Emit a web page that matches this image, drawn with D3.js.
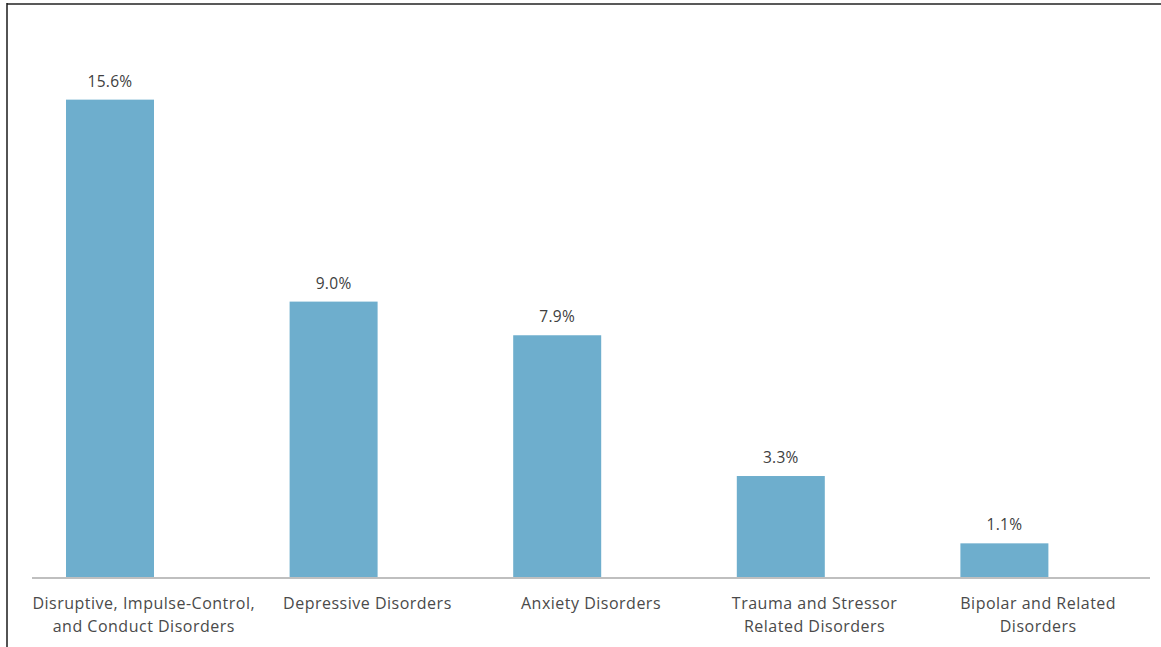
<!DOCTYPE html>
<html>
<head>
<meta charset="utf-8">
<script src="https://cdn.jsdelivr.net/npm/d3@7"></script>
<style>
  html, body { margin: 0; padding: 0; background: #fff; }
  svg { display: block; }
</style>
</head>
<body>
<svg id="chart" width="1161" height="647"></svg>
<script>
const categories = [
  ["Disruptive, Impulse-Control,", "and Conduct Disorders"],
  ["Depressive Disorders"],
  ["Anxiety Disorders"],
  ["Trauma and Stressor", "Related Disorders"],
  ["Bipolar and Related", "Disorders"]
];
const values = [15.6, 9.0, 7.9, 3.3, 1.1];
const valueLabels = ["15.6%", "9.0%", "7.9%", "3.3%", "1.1%"];

const svg = d3.select("#chart");
const W = 1161, H = 647;
const axisLeft = 32, axisRight = 1150, axisY = 578;

// frame lines (top and left)
svg.append("line").attr("x1", 7).attr("x2", W).attr("y1", 4).attr("y2", 4)
  .attr("stroke", "#595959").attr("stroke-width", 2);
svg.append("line").attr("x1", 7).attr("x2", 7).attr("y1", 3).attr("y2", H)
  .attr("stroke", "#1a1a1a").attr("stroke-width", 1.5);

const x = d3.scaleBand().domain(d3.range(values.length))
  .range([axisLeft, axisRight]).paddingInner(0).paddingOuter(0);
const y = d3.scaleLinear().domain([0, 18]).range([577, 577 - 18 * 30.6]);

const barW = 88;
const barOffset = 34; // offset of bar from band start

svg.selectAll("rect.bar").data(values).enter().append("rect")
  .attr("class", "bar")
  .attr("x", (d, i) => x(i) + barOffset)
  .attr("width", barW)
  .attr("y", d => y(d))
  .attr("height", d => y(0) - y(d))
  .attr("fill", "#6eaecd");

// axis line
svg.append("line").attr("x1", axisLeft).attr("x2", axisRight)
  .attr("y1", axisY).attr("y2", axisY)
  .attr("stroke", "#bfbfbf").attr("stroke-width", 2);

const font = "'Open Sans', 'Noto Sans', sans-serif";

svg.selectAll("text.val").data(values).enter().append("text")
  .attr("class", "val")
  .attr("x", (d, i) => x(i) + barOffset + barW / 2)
  .attr("y", d => y(d) - 13)
  .attr("text-anchor", "middle")
  .attr("font-family", font).attr("font-size", 15.5)
  .attr("letter-spacing", 0.3)
  .attr("fill", "#404040")
  .text((d, i) => valueLabels[i]);

categories.forEach((lines, i) => {
  const cx = x(i) + x.bandwidth() / 2;
  const t = svg.append("text")
    .attr("y", 609)
    .attr("text-anchor", "middle")
    .attr("font-family", font).attr("font-size", 16)
    .attr("letter-spacing", 0.5)
    .attr("fill", "#4a4a4a");
  lines.forEach((ln, j) => {
    t.append("tspan").attr("x", cx)
      .attr("dy", j === 0 ? 0 : 23).text(ln);
  });
});
</script>
</body>
</html>
